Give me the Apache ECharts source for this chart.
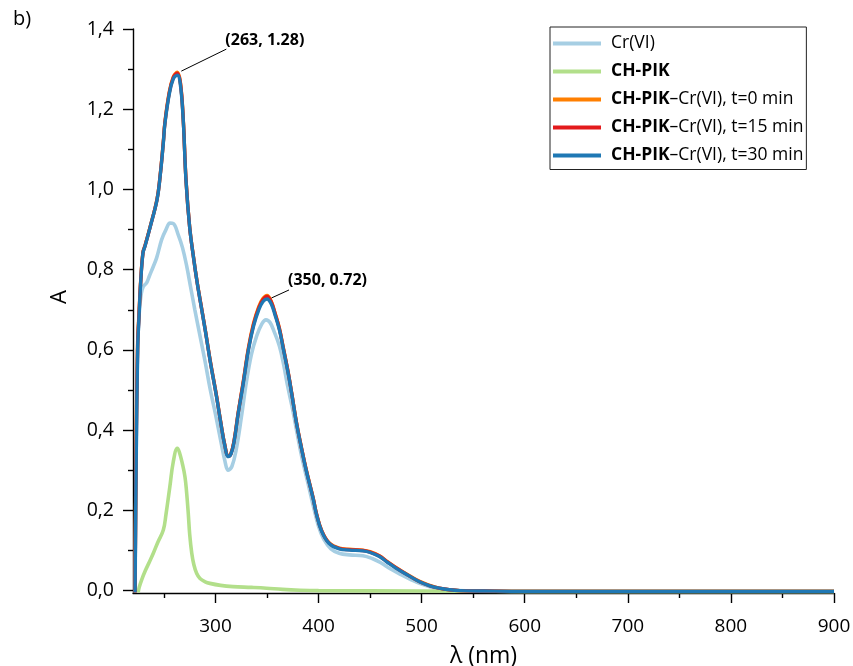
<!DOCTYPE html>
<html>
<head>
<meta charset="utf-8">
<script src="https://cdn.jsdelivr.net/npm/echarts@6/dist/echarts.min.js"></script>
<style>
html,body{margin:0;padding:0;background:#fff;}
#chart{width:853px;height:666px;}
</style>
</head>
<body>
<div id="chart"></div>
<script>
// ---- data ----
const wlMix = [222, 223, 224.5, 225.8, 227.5, 229.7, 231.6, 236.5, 243.3, 246.2, 249.4, 251, 255, 259, 263, 266, 268.7, 271.4, 275, 279, 282, 285, 290, 295, 301, 305, 309, 312.5, 315, 318, 322, 327, 332, 337, 342, 346, 350, 354, 358, 362, 366, 370.5, 374, 378.6, 383, 388, 394.7, 398, 403, 410, 420, 430, 443, 450, 459, 467, 475, 487, 498, 508, 517, 527, 537, 560, 600, 700, 800, 900];
const aT30 = [-0.005, 0.30, 0.60, 0.68, 0.77, 0.842, 0.858, 0.905, 0.974, 1.03, 1.115, 1.165, 1.235, 1.275, 1.285, 1.26, 1.174, 1.023, 0.905, 0.825, 0.772, 0.725, 0.65, 0.57, 0.484, 0.42, 0.362, 0.334, 0.34, 0.37, 0.44, 0.517, 0.60, 0.66, 0.70, 0.72, 0.727, 0.715, 0.685, 0.65, 0.60, 0.542, 0.49, 0.417, 0.36, 0.30, 0.23, 0.19, 0.148, 0.118, 0.104, 0.101, 0.099, 0.095, 0.085, 0.07, 0.056, 0.038, 0.022, 0.012, 0.006, 0.002, 0, -0.001, -0.002, -0.002, -0.002, -0.002];
const aT15 = [-0.005, 0.33, 0.61, 0.685, 0.772, 0.843, 0.859, 0.905, 0.975, 1.031, 1.117, 1.167, 1.238, 1.278, 1.29, 1.265, 1.176, 1.024, 0.905, 0.825, 0.772, 0.726, 0.651, 0.571, 0.485, 0.421, 0.363, 0.335, 0.341, 0.372, 0.442, 0.52, 0.603, 0.664, 0.705, 0.725, 0.733, 0.72, 0.689, 0.653, 0.602, 0.544, 0.491, 0.418, 0.361, 0.301, 0.231, 0.191, 0.149, 0.119, 0.105, 0.102, 0.1, 0.096, 0.086, 0.071, 0.057, 0.038, 0.022, 0.012, 0.006, 0.002, 0, -0.001, -0.002, -0.002, -0.002, -0.002];
const aT0 = [-0.005, 0.36, 0.62, 0.69, 0.775, 0.844, 0.86, 0.906, 0.976, 1.032, 1.119, 1.169, 1.24, 1.28, 1.292, 1.267, 1.178, 1.025, 0.906, 0.826, 0.773, 0.727, 0.652, 0.572, 0.486, 0.422, 0.364, 0.336, 0.342, 0.373, 0.443, 0.522, 0.606, 0.667, 0.708, 0.728, 0.736, 0.722, 0.69, 0.654, 0.603, 0.545, 0.492, 0.419, 0.362, 0.302, 0.232, 0.192, 0.15, 0.12, 0.106, 0.103, 0.101, 0.097, 0.087, 0.072, 0.058, 0.039, 0.023, 0.013, 0.006, 0.002, 0, -0.001, -0.002, -0.002, -0.002, -0.002];

const wlCr = [222, 223, 224.5, 226, 228, 230, 233.2, 236, 239.7, 243, 247.8, 252, 255.9, 259, 263.9, 268, 272, 276, 280, 285, 290, 295, 300, 305, 309, 312.4, 316, 320, 325, 330, 335, 340, 345, 349, 353, 357, 362, 366, 370, 375, 379, 384, 390, 395, 400, 405, 412, 420, 430, 443, 452, 460, 470, 480, 490, 500, 510, 520, 535, 560, 600, 700, 800, 900];
const aCr = [-0.005, 0.30, 0.60, 0.69, 0.74, 0.758, 0.767, 0.785, 0.808, 0.83, 0.875, 0.90, 0.916, 0.915, 0.887, 0.855, 0.81, 0.755, 0.70, 0.635, 0.57, 0.50, 0.44, 0.375, 0.325, 0.30, 0.31, 0.35, 0.43, 0.52, 0.59, 0.635, 0.665, 0.675, 0.668, 0.645, 0.61, 0.565, 0.51, 0.45, 0.395, 0.33, 0.265, 0.21, 0.16, 0.128, 0.104, 0.093, 0.089, 0.087, 0.08, 0.07, 0.054, 0.04, 0.027, 0.016, 0.008, 0.003, 0, -0.001, -0.002, -0.002, -0.002, -0.002];

const wlPik = [225, 226, 228.4, 232, 236, 239.7, 244, 249.4, 252, 255.8, 259, 263, 265, 268, 270.4, 272, 273.6, 275, 277, 279, 281.7, 285, 290, 294.6, 305, 317, 335, 349.5, 365, 382, 400, 500, 600, 700, 800, 900];
const aPik = [-0.005, 0.008, 0.027, 0.05, 0.072, 0.093, 0.12, 0.151, 0.19, 0.26, 0.32, 0.355, 0.345, 0.315, 0.284, 0.245, 0.193, 0.14, 0.093, 0.065, 0.043, 0.03, 0.022, 0.018, 0.013, 0.010, 0.008, 0.006, 0.003, 0.001, 0, -0.001, -0.002, -0.002, -0.002, -0.002];

const seriesNames = ['Cr(VI)', 'CH-PIK', 'CH-PIK–Cr(VI), t=0 min', 'CH-PIK–Cr(VI), t=15 min', 'CH-PIK–Cr(VI), t=30 min'];
const seriesColors = ['#a6cee3', '#b2df8a', '#ff7f00', '#e31a1c', '#1f78b4'];

const xMajorTicks = [300, 400, 500, 600, 700, 800, 900];
const xMinorTicks = [250, 350, 450, 550, 650, 750, 850];
const yMajorTicks = [0, 0.2, 0.4, 0.6, 0.8, 1.0, 1.2, 1.4];
const yMinorTicks = [0.1, 0.3, 0.5, 0.7, 0.9, 1.1, 1.3];

const peakLabels = [
  {x: 263, y: 1.285, text: '(263, 1.28)'},
  {x: 350, y: 0.727, text: '(350, 0.72)'}
];

function pairs(xs, ys) { return xs.map((x, i) => [x, ys[i]]); }

const FONT = '"Open Sans", sans-serif';
const chart = echarts.init(document.getElementById('chart'), null, {renderer: 'canvas'});

const seriesData = [pairs(wlCr, aCr), pairs(wlPik, aPik), pairs(wlMix, aT0), pairs(wlMix, aT15), pairs(wlMix, aT30)];

const axisCommonX = {
  type: 'value', min: 220, max: 900, position: 'bottom',
  splitLine: {show: false}
};
const axisCommonY = {
  type: 'value', min: -0.006, max: 1.4, position: 'left',
  splitLine: {show: false}
};

const LF = 17.5;
chart.setOption({
  animation: false,
  backgroundColor: '#fff',
  title: {
    text: 'b)', left: 8, top: 4,
    textStyle: {fontFamily: FONT, fontSize: 20, fontWeight: 'normal', color: '#000'}
  },
  grid: {left: 133, right: 19, top: 29, bottom: 73, containLabel: false, outerBoundsMode: 'none'},
  legend: {
    left: 550, top: 27, orient: 'vertical',
    padding: [5.5, 3, 3, 3],
    itemGap: 6, itemWidth: 48, itemHeight: 4, icon: 'rect',
    borderColor: '#222', borderWidth: 1,
    data: seriesNames,
    textStyle: {
      fontFamily: FONT, fontSize: LF, color: '#000', lineHeight: 22, padding: [0, 0, 0, 5],
      rich: {
        b: {fontFamily: FONT, fontSize: LF, fontWeight: 'bold', color: '#000', lineHeight: 22},
        n: {fontFamily: FONT, fontSize: LF, color: '#000', lineHeight: 22}
      }
    },
    formatter: function (name) {
      if (name.indexOf('CH-PIK') === 0) {
        const rest = name.slice(6);
        return rest ? '{b|CH-PIK}{n|' + rest + '}' : '{b|CH-PIK}';
      }
      return '{n|' + name + '}';
    }
  },
  xAxis: [
    Object.assign({}, axisCommonX, {
      name: 'λ (nm)', nameLocation: 'middle', nameGap: 52,
      nameTextStyle: {fontFamily: FONT, fontSize: 23, color: '#000'},
      axisLine: {show: true, onZero: false, lineStyle: {color: '#000', width: 1.4}},
      axisTick: {show: true, length: 10, customValues: xMajorTicks, lineStyle: {color: '#000', width: 1.4}},
      axisLabel: {show: true, customValues: xMajorTicks, margin: 24, fontFamily: FONT, fontSize: 19, color: '#000'}
    }),
    Object.assign({}, axisCommonX, {
      axisLine: {show: false, onZero: false},
      axisTick: {show: true, length: 5, customValues: xMinorTicks, lineStyle: {color: '#000', width: 1.4}},
      axisLabel: {show: false}
    })
  ],
  yAxis: [
    Object.assign({}, axisCommonY, {
      name: 'A', nameLocation: 'middle', nameGap: 62, nameRotate: 90,
      nameTextStyle: {fontFamily: FONT, fontSize: 22, color: '#000', padding: [0, 0, 0, 28]},
      axisLine: {show: true, onZero: false, lineStyle: {color: '#000', width: 1.4}},
      axisTick: {show: true, length: 10, customValues: yMajorTicks, lineStyle: {color: '#000', width: 1.4}},
      axisLabel: {
        show: true, customValues: yMajorTicks, margin: 19, fontFamily: FONT, fontSize: 19.5, color: '#000',
        formatter: v => Number(v).toFixed(1).replace('.', ',')
      }
    }),
    Object.assign({}, axisCommonY, {
      axisLine: {show: false, onZero: false},
      axisTick: {show: true, length: 5, customValues: yMinorTicks, lineStyle: {color: '#000', width: 1.4}},
      axisLabel: {show: false}
    })
  ],
  series: seriesNames.map((name, i) => ({
    name: name, type: 'line', xAxisIndex: 0, yAxisIndex: 0,
    data: seriesData[i], showSymbol: false, symbol: 'none',
    smooth: 0.4,
    color: seriesColors[i],
    lineStyle: {width: i < 2 ? 3.6 : 3.4, color: seriesColors[i]},
    z: 2 + i
  }))
});

// peak annotations with leader lines, placed relative to the data peaks
const annOffsets = [
  {l0: [4, -4], l1: [49, -26], t: [48, -35]},
  {l0: [4.5, -1], l1: [22, -9], t: [21, -19]}
];
const graphics = [];
peakLabels.forEach((p, i) => {
  const px = chart.convertToPixel({xAxisIndex: 0, yAxisIndex: 0}, [p.x, p.y]);
  const o = annOffsets[i];
  graphics.push({
    type: 'line', z: 20,
    shape: {x1: px[0] + o.l0[0], y1: px[1] + o.l0[1], x2: px[0] + o.l1[0], y2: px[1] + o.l1[1]},
    style: {stroke: '#000', lineWidth: 1}
  });
  graphics.push({
    type: 'text', z: 20,
    x: px[0] + o.t[0], y: px[1] + o.t[1],
    style: {text: p.text, fontFamily: FONT, fontSize: 16, fontWeight: 'bold', fill: '#000', verticalAlign: 'middle', align: 'left'}
  });
});
chart.setOption({graphic: graphics});
</script>
</body>
</html>
